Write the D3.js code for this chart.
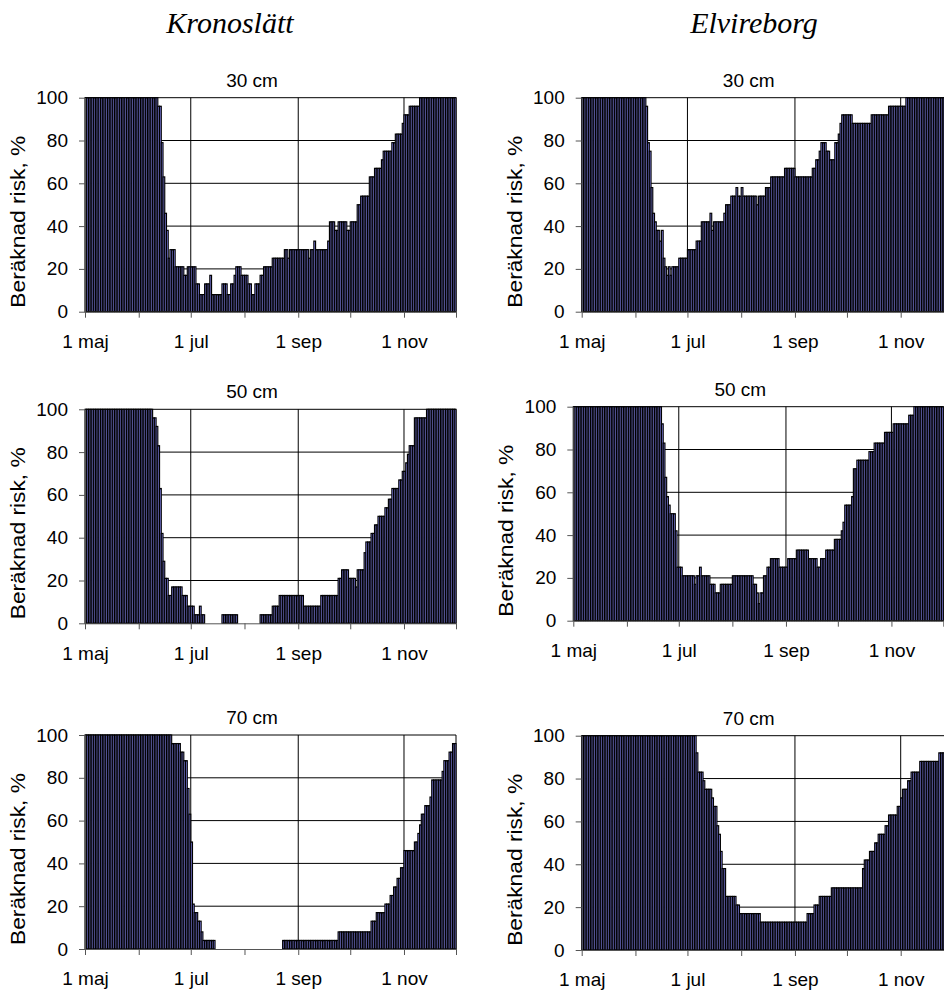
<!DOCTYPE html>
<html>
<head>
<meta charset="utf-8">
<script src="https://cdn.jsdelivr.net/npm/d3@7"></script>
<style>
  body { margin: 0; background: #fff; }
  svg { display: block; }
</style>
</head>
<body>
<svg id="chart" width="944" height="992"></svg>
<script>
const sites = ["Kronoslätt", "Elvireborg"];
const depths = ["30 cm", "50 cm", "70 cm"];
const yTicks = [0, 20, 40, 60, 80, 100];
const monthLabels = ["1 maj", "", "1 jul", "", "1 sep", "", "1 nov", ""];

// daily risk in %, written as [value, number of days] from 1 maj
const kronoslatt30 = [[100,42],[96,2],[79,1],[63,1],[46,1],[38,1],[25,1],[29,3],[21,5],[17,2],[21,5],[13,2],[8,3],[13,3],[17,1],[8,6],[13,3],[8,2],[13,2],[17,1],[21,3],[17,4],[13,2],[8,2],[13,3],[17,2],[21,5],[25,7],[29,2],[25,1],[29,11],[25,1],[29,2],[33,1],[29,7],[33,1],[42,3],[38,2],[42,5],[38,2],[42,4],[50,2],[54,5],[63,3],[67,4],[71,1],[75,5],[79,2],[83,4],[88,1],[92,3],[96,6],[100,21]];
const elvireborg30 = [[100,37],[96,1],[79,1],[75,1],[58,1],[46,1],[42,1],[38,2],[33,1],[38,1],[25,1],[21,1],[17,1],[21,1],[17,1],[21,4],[25,5],[29,5],[33,3],[42,5],[46,1],[38,1],[42,6],[46,1],[50,3],[54,3],[58,1],[54,2],[58,1],[54,8],[50,1],[54,4],[58,3],[63,8],[67,6],[63,10],[67,2],[71,2],[75,1],[79,3],[75,2],[71,3],[79,2],[83,1],[88,1],[92,6],[88,11],[92,10],[96,10],[100,27]];
const kronoslatt50 = [[100,39],[96,2],[92,1],[83,1],[63,1],[42,1],[29,1],[21,2],[13,2],[17,6],[13,3],[8,4],[4,3],[8,1],[4,2],[0,10],[4,9],[0,13],[4,7],[8,4],[13,14],[8,10],[13,10],[21,2],[25,4],[21,4],[17,1],[25,4],[33,1],[38,3],[42,2],[46,2],[50,4],[54,2],[58,2],[63,4],[67,2],[71,2],[75,1],[79,1],[83,3],[96,7],[100,17]];
const elvireborg50 = [[100,51],[92,1],[83,1],[67,1],[58,1],[54,1],[50,3],[42,1],[25,3],[21,7],[17,1],[21,2],[25,1],[21,5],[17,3],[13,3],[17,7],[21,12],[17,2],[13,1],[8,1],[13,2],[21,2],[25,2],[29,5],[25,5],[29,5],[33,7],[29,5],[25,2],[29,3],[33,5],[38,4],[42,1],[46,1],[54,4],[58,1],[71,2],[75,7],[79,3],[83,6],[88,5],[92,9],[96,3],[100,17]];
const kronoslatt70 = [[100,50],[96,5],[92,2],[88,2],[75,1],[63,1],[50,1],[21,1],[17,2],[13,2],[8,1],[4,7],[0,39],[4,32],[8,19],[13,3],[17,5],[21,3],[25,2],[29,2],[33,2],[38,2],[46,6],[50,2],[54,1],[58,1],[63,2],[67,3],[71,1],[79,6],[83,1],[88,3],[92,2],[96,2]];
const elvireborg70 = [[100,66],[92,1],[83,3],[79,1],[75,4],[71,1],[67,2],[58,1],[54,1],[46,1],[38,2],[25,6],[21,2],[17,12],[13,27],[17,4],[21,3],[25,7],[29,18],[38,1],[42,3],[46,3],[50,2],[54,4],[58,2],[63,5],[67,2],[71,1],[75,3],[79,2],[83,5],[88,11],[92,8]];

const panels = [
  { site: 0, depth: 0, runs: kronoslatt30, x: 85, w: 371, top: 97.7, bottom: 311.7 },
  { site: 1, depth: 0, runs: elvireborg30, x: 581.7, w: 371, top: 97.7, bottom: 311.7 },
  { site: 0, depth: 1, runs: kronoslatt50, x: 85, w: 371, top: 409.3, bottom: 623.3 },
  { site: 1, depth: 1, runs: elvireborg50, x: 573.3, w: 370, top: 406.7, bottom: 620.7 },
  { site: 0, depth: 2, runs: kronoslatt70, x: 85, w: 371, top: 735, bottom: 949 },
  { site: 1, depth: 2, runs: elvireborg70, x: 581.7, w: 371, top: 735.7, bottom: 950 },
];
const siteTitleX = [230, 754];

const font = '"Liberation Sans", Arial, sans-serif';
const start = new Date(Date.UTC(2001, 4, 1));
const end = new Date(Date.UTC(2001, 11, 1));
const months = d3.utcMonth.range(start, d3.utcDay.offset(end, 1));

function expand(runs) {
  const out = [];
  runs.forEach(([v, n]) => { for (let i = 0; i < n; i++) out.push(v); });
  return out;
}

const svg = d3.select("#chart");

svg.selectAll("text.site")
  .data(sites)
  .join("text")
  .attr("class", "site")
  .attr("x", (d, i) => siteTitleX[i])
  .attr("y", 33)
  .attr("text-anchor", "middle")
  .attr("font-family", '"Liberation Serif", "Times New Roman", serif')
  .attr("font-style", "italic")
  .attr("font-size", 30)
  .text(d => d);

panels.forEach(p => {
  const values = expand(p.runs);
  const x = d3.scaleUtc().domain([start, end]).range([p.x, p.x + p.w]);
  const y = d3.scaleLinear().domain([0, 100]).range([p.bottom, p.top]);
  const g = svg.append("g");

  g.append("g")
    .selectAll("line")
    .data(yTicks.filter(d => d > 0))
    .join("line")
    .attr("x1", p.x).attr("x2", p.x + p.w)
    .attr("y1", d => y(d)).attr("y2", d => y(d))
    .attr("stroke", "#000")
    .attr("stroke-width", 1);

  g.append("g")
    .selectAll("line")
    .data(months.filter((d, i) => i % 2 === 0 && i > 0).concat([end]))
    .join("line")
    .attr("x1", d => x(d)).attr("x2", d => x(d))
    .attr("y1", p.bottom).attr("y2", p.top)
    .attr("stroke", "#000")
    .attr("stroke-width", 1);

  const dayW = x(d3.utcDay.offset(start, 1)) - x(start);
  g.append("g")
    .selectAll("rect")
    .data(values.map((v, i) => ({ v, i })).filter(d => d.v > 0))
    .join("rect")
    .attr("x", d => x(d3.utcDay.offset(start, d.i)))
    .attr("width", dayW)
    .attr("y", d => y(d.v))
    .attr("height", d => y(0) - y(d.v))
    .attr("fill", "#8f8fff")
    .attr("stroke", "#000")
    .attr("stroke-width", 1.15);

  const yAxis = g.append("g")
    .attr("transform", `translate(${p.x},0)`)
    .call(d3.axisLeft(y).tickValues(yTicks).tickSize(6).tickSizeOuter(0).tickPadding(11));

  const xAxis = g.append("g")
    .attr("transform", `translate(0,${p.bottom})`)
    .call(d3.axisBottom(x).tickValues(months).tickSize(6).tickSizeOuter(0).tickPadding(17)
      .tickFormat((d, i) => monthLabels[i]));

  [yAxis, xAxis].forEach(a => {
    a.attr("font-family", font).attr("font-size", 19);
    a.selectAll("path, line").attr("stroke", "#555");
    a.selectAll("text").attr("fill", "#000");
  });

  g.append("text")
    .attr("x", p.x + 167)
    .attr("y", p.top - 11)
    .attr("text-anchor", "middle")
    .attr("font-family", font)
    .attr("font-size", 19)
    .text(depths[p.depth]);

  g.append("text")
    .attr("transform", `translate(${p.x - 60},${(p.top + p.bottom) / 2 + 17}) rotate(-90)`)
    .attr("text-anchor", "middle")
    .attr("font-family", font)
    .attr("font-size", 21)
    .attr("textLength", 172)
    .attr("lengthAdjust", "spacingAndGlyphs")
    .text("Beräknad risk, %");
});
</script>
</body>
</html>
